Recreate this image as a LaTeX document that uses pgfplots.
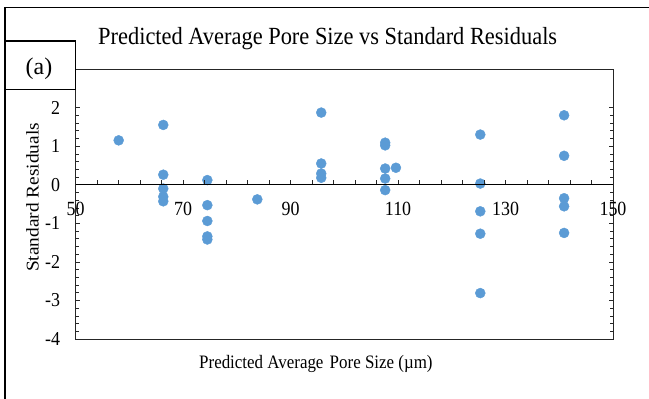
\documentclass[border=0pt]{standalone}
\usepackage{pgfplots}
\pgfplotsset{compat=1.18}
\usepackage{fontspec}
\setmainfont{Liberation Serif}
\definecolor{dotblue}{RGB}{91,155,213}
\begin{document}
\begin{tikzpicture}
\useasboundingbox (0,0) rectangle (649bp,399bp);
% outer frame
\draw[line width=1.3bp] (5bp,0) -- (5bp,391.3bp) -- (649bp,391.3bp);
% main axis (box + y ticks + data)
\begin{axis}[
  at={(75.7bp,60bp)}, anchor=south west,
  scale only axis, width=537.3bp, height=270bp,
  xmin=50, xmax=150, ymin=-4, ymax=3,
  xtick=\empty,
  ytick={-4,-3,-2,-1,0,1,2},
  yticklabels={-4,-3,-2,-1,0,1,2},
  minor y tick num=4,
  tick align=inside,
  major tick length=4.5bp, minor tick length=3bp,
  yticklabel style={anchor=east, xshift=-12bp, yscale=1.1, font=\fontsize{18}{20}\selectfont},
  axis line style={black!85, line width=0.8bp},
  every tick/.style={black!85, line width=0.7bp},
  clip=false,
]
\addplot[only marks, color=dotblue, mark=*, mark size=5bp, mark options={draw=dotblue, fill=dotblue}] coordinates {
(58.0,1.15)
(66.3,1.55) (66.3,0.26) (66.3,-0.10) (66.3,-0.31) (66.3,-0.43)
(74.5,0.12) (74.5,-0.53) (74.5,-0.94) (74.5,-1.34) (74.5,-1.42)
(83.8,-0.38)
(95.7,1.87) (95.7,0.55) (95.7,0.29) (95.7,0.18)
(107.6,1.09) (107.6,1.02) (107.6,0.42) (107.6,0.16) (107.6,-0.14)
(109.6,0.44)
(125.3,1.30) (125.3,0.03) (125.3,-0.69) (125.3,-1.27) (125.3,-2.81)
(140.9,1.80) (140.9,0.75) (140.9,-0.35) (140.9,-0.56) (140.9,-1.25)
};
\end{axis}
% x axis through y=0
\begin{axis}[
  at={(75.7bp,60bp)}, anchor=south west,
  scale only axis, width=537.3bp, height=270bp,
  xmin=50, xmax=150, ymin=-4, ymax=3,
  axis x line*=middle, axis y line=none,
  xtick={50,70,90,110,130,150},
  xticklabels={50,70,90,110,130,150},
  minor x tick num=4,
  xtick align=inside,
  major tick length=5bp, minor tick length=5bp,
  xticklabel style={anchor=north, yshift=-13.5bp, yscale=1.12, font=\fontsize{18}{20}\selectfont},
  axis line style={black, line width=0.9bp},
  every tick/.style={black!85, line width=0.7bp},
]
\end{axis}
% (a) box
\draw[line width=1.2bp, fill=white] (5bp,309.5bp) rectangle (75.5bp,358bp);
\node[font=\fontsize{24}{26}\selectfont] at (39bp,330bp) {(a)};
% title and labels
\node[font=\fontsize{22.5}{24}\selectfont, anchor=base west, inner sep=0pt, yscale=1.1] at (98bp,354bp) {Predicted Average Pore Size vs Standard Residuals};
\node[font=\fontsize{17}{19}\selectfont, anchor=base west, inner sep=0pt, yscale=1.12] at (199bp,30.7bp) {Predicted Average\hspace{2bp} Pore Size (µm)};
\node[font=\fontsize{18}{20}\selectfont, rotate=90, anchor=base, inner sep=0pt] at (38.5bp,201.5bp) {\scalebox{1.08}[1]{Standard Residuals}};
\end{tikzpicture}
\end{document}
